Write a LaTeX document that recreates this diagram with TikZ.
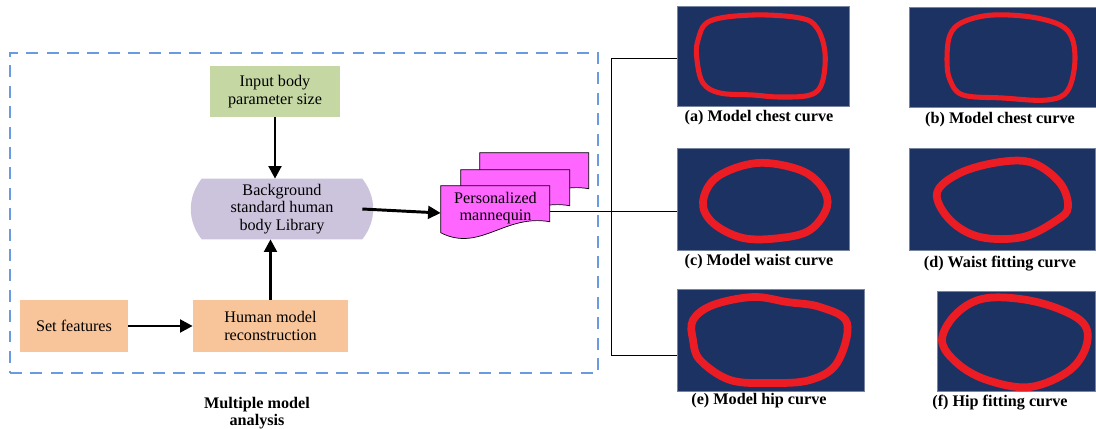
\documentclass[tikz,border=0pt]{standalone}
\usepackage{fontspec}
\setmainfont{Liberation Serif}
\usetikzlibrary{arrows.meta,backgrounds,calc}

\definecolor{inputgreen}{RGB}{197,216,164}
\definecolor{libpurple}{RGB}{204,195,220}
\definecolor{featorange}{RGB}{248,196,154}
\definecolor{docpink}{RGB}{255,102,255}
\definecolor{frameblue}{RGB}{106,154,224}
\definecolor{imgnavy}{RGB}{27,50,99}
\definecolor{curvered}{RGB}{236,28,36}

\begin{document}
\begin{tikzpicture}[
    x=0.025cm, y=-0.025cm,
    box/.style={rectangle, fill=#1, inner sep=2pt, align=center, font=\fontsize{11.5}{12.5}\selectfont},
    box/.default=none,
    arr/.style={-{Triangle[length=9pt,width=9pt]}, line width=2.1pt, black},
    img/.style={rectangle, fill=imgnavy, inner sep=0pt, draw=imgnavy!60!white, line width=0.4pt},
    captxt/.style={font=\fontsize{11.5}{12.5}\selectfont\bfseries, align=center},
    curve/.style={curvered, line width=#1, line join=round}
]
    \useasboundingbox (0,0) rectangle (1096,428);

    % Cadre d'analyse
    \node[draw=frameblue, line width=1.4pt, dash pattern=on 8.5pt off 6pt,
          minimum width=14.7cm, minimum height=8cm, inner sep=0pt] (frame) at (304,213) {};
    \node[captxt] (multi) at (257,413) {Multiple model\\analysis};

    % Blocs
    \node[box=inputgreen, minimum width=3.25cm, minimum height=1.275cm] (inp) at (275,91.5) {Input body\\parameter size};
    \node[box, minimum width=4cm, minimum height=1.5cm] (lib) at (282,209) {Background\\standard human\\body Library};
    \node[box=featorange, minimum width=2.7cm, minimum height=1.3cm] (feat) at (74,326) {Set features};
    \node[box=featorange, minimum width=3.875cm, minimum height=1.3cm] (hum) at (270.5,326) {Human model\\reconstruction};
    \node[box, minimum width=2.725cm, minimum height=1.1cm] (pm) at (495.5,208) {Personalized\\mannequin};

    \coordinate (br) at (611,211);

    \begin{scope}[on background layer]
        \fill[libpurple] (lib.north west) to[bend right=38] (lib.south west) -- (lib.south east)
            to[bend right=38] (lib.north east) -- cycle;
        \draw[line width=0.7pt] ($(pm.east)+(0,3)$) -- (br);
        % Pile de documents
        \coordinate (dn) at (pm.north west);
        \foreach \dx/\dy in {39/-33, 20/-16, 0/0}{
            \draw[fill=docpink, line width=0.5pt]
                ($(dn)+(\dx,\dy)$) -- ++(109,0) -- ++(0,36)
                .. controls +(-45,-8) and +(39,20) .. ++(-109,11) -- cycle;
        }
    \end{scope}

    % Fleches
    \draw[arr] (inp.south) -- (inp.south |- lib.north);
    \draw[arr] (hum.north) -- (hum.north |- lib.south);
    \draw[arr] (feat.east) -- (hum.west);
    \draw[arr] (lib.east) -- ($(pm.west)+(0,5)$);

    % Images des courbes
    \node[img, minimum width=4.3cm, minimum height=2.5cm] (imga) at (763,56.5) {};
    \node[img, minimum width=4.675cm, minimum height=2.5cm] (imgb) at (1002.5,57) {};
    \node[img, minimum width=4.3cm, minimum height=2.55cm] (imgc) at (763,199) {};
    \node[img, minimum width=4.65cm, minimum height=2.55cm] (imgd) at (1002,199) {};
    \node[img, minimum width=4.675cm, minimum height=2.55cm] (imge) at (770.5,340) {};
    \node[img, minimum width=3.95cm, minimum height=2.5cm] (imgf) at (1016,341.5) {};

    \draw[line width=0.7pt] (br) -- (br -| imgc.west);
    \draw[line width=0.7pt] ($(imga.west)+(0,1.5)$) -| (br) |- ($(imge.west)+(0,15)$);

    % Courbes
    \draw[curve=3.6pt] plot[smooth cycle, tension=0.6] coordinates {(698,40) (710,21) (753,15) (800,18) (817,28) (825,53) (822,83) (810,95) (780,97) (753,95) (720,93) (703,83) (697,60)};
    \draw[curve=3.6pt] plot[smooth cycle, tension=0.6] coordinates {(947,60) (950,35) (963,22) (993,15) (1037,18) (1067,30) (1075,57) (1068,90) (1047,100) (1003,98) (963,95) (950,80)};
    \draw[curve=5.5pt] plot[smooth cycle, tension=0.6] coordinates {(703,202) (717,177) (757,163) (800,170) (822,187) (827,207) (810,230) (780,238) (743,238) (713,223)};
    \draw[curve=5.5pt] plot[smooth cycle, tension=0.6] coordinates {(937,193) (960,173) (1000,162) (1033,163) (1060,183) (1068,207) (1057,220) (1023,237) (980,237) (950,220)};
    \draw[curve=5.5pt] plot[smooth cycle, tension=0.6] coordinates {(693,320) (713,305) (753,297) (787,302) (820,307) (847,323) (837,363) (810,380) (770,383) (730,380) (700,360) (693,340)};
    \draw[curve=5.5pt] plot[smooth cycle, tension=0.6] coordinates {(942,340) (957,313) (987,298) (1037,302) (1080,320) (1087,343) (1070,370) (1030,387) (987,380) (957,363)};

    % Legendes
    \node[captxt] (capa) at (759,118) {(a) Model chest curve};
    \node[captxt] (capb) at (1000,120) {(b) Model chest curve};
    \node[captxt] (capc) at (759,262) {(c) Model waist curve};
    \node[captxt] (capd) at (1000,264) {(d) Waist fitting curve};
    \node[captxt] (cape) at (759,401) {(e) Model hip curve};
    \node[captxt] (capf) at (1000,403) {(f) Hip fitting curve};

\end{tikzpicture}
\end{document}
